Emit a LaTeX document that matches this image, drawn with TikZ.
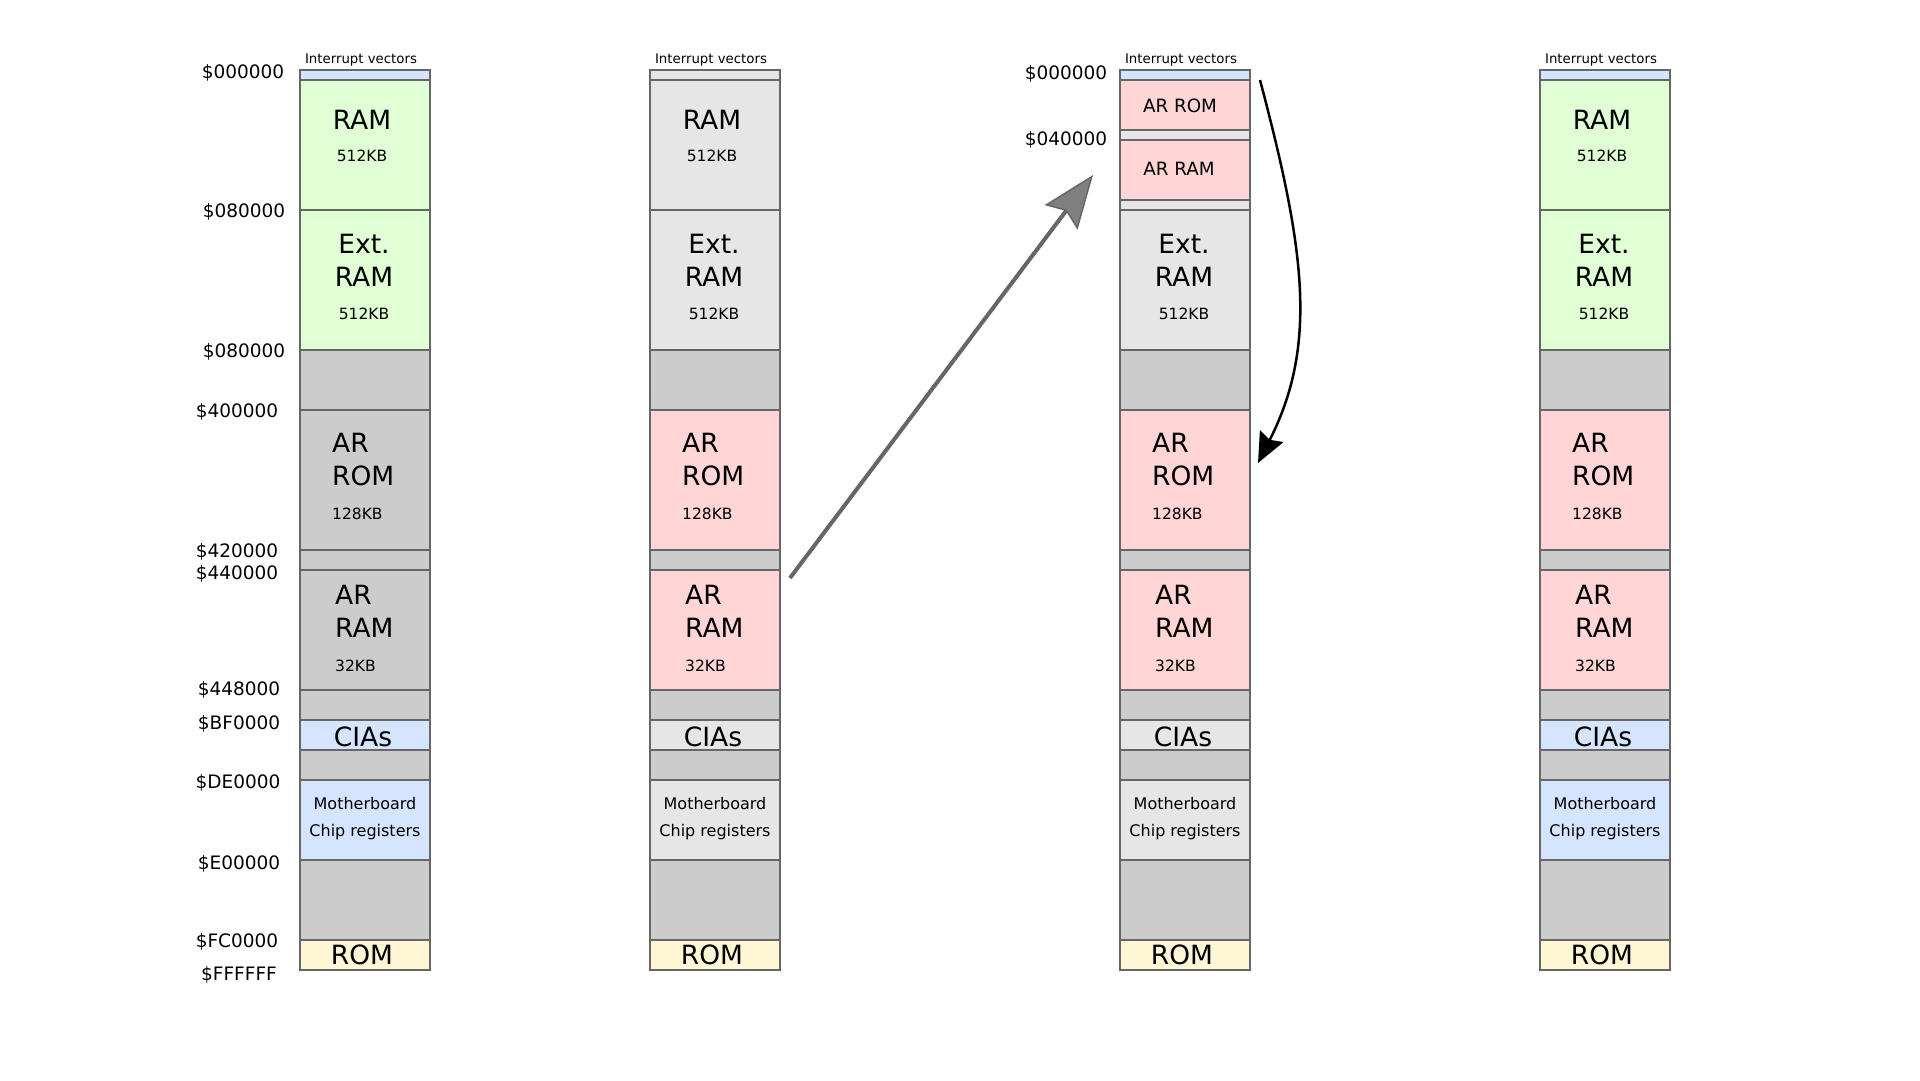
\documentclass[tikz,border=0pt]{standalone}
\usepackage{fontspec}
\setmainfont{DejaVu Sans}
\usepackage{xcolor}
\definecolor{RamGreen}{RGB}{224,255,213}
\definecolor{IoBlue}{RGB}{213,229,255}
\definecolor{ArPink}{RGB}{255,213,213}
\definecolor{RomYellow}{RGB}{255,246,213}
\definecolor{HoleGray}{RGB}{204,204,204}
\definecolor{MutedGray}{RGB}{230,230,230}
\definecolor{EdgeGray}{RGB}{102,102,102}
\definecolor{ArrowGray}{RGB}{128,128,128}
\usepackage{tikz}
\usetikzlibrary{arrows.meta}

% upper part of a map: #1 name, #2 left x, #3 vectors fill, #4 RAM fill
\newcommand{\mapupper}[4]{%
    \node[region, fill=#3, minimum height=10] (#1iv) at (#2,70) {};
    \node[region, fill=#4, minimum height=130] (#1ram) at (#2,80) {};
    \node[ivtxt] (#1ivtxt) at (#2+61,60) {Interrupt vectors};
    \node[bigtxt] (#1ramtxt) at (#2+62,119.5) {RAM};
    \node[sizetxt] (#1ramsize) at (#2+62,156) {512KB};
}

% lower part of a map: #1 name, #2 left x, #3 Ext. RAM fill, #4 AR fill, #5 I/O fill
\newcommand{\maplower}[5]{%
    \foreach \n/\ya/\yb/\col in {ext/210/350/#3, gapa/350/410/HoleGray, arrom/410/550/#4,
            gapb/550/570/HoleGray, arram/570/690/#4, gapc/690/720/HoleGray, cia/720/750/#5,
            gapd/750/780/HoleGray, chip/780/860/#5, gape/860/940/HoleGray, rom/940/970/RomYellow}
        \node[region, fill=\col, minimum height=\yb-\ya] (#1\n) at (#2,\ya) {};
    \node[bigtxt, align=center] (#1exttxt) at (#2+64,260) {Ext.\\RAM};
    \node[sizetxt] (#1extsize) at (#2+64,313.5) {512KB};
    \node[bigtxt, align=left, anchor=west] (#1arromtxt) at (#2+32,460) {AR\\ROM};
    \node[sizetxt, anchor=west] (#1arromsize) at (#2+32,514) {128KB};
    \node[bigtxt, align=left, anchor=west] (#1arramtxt) at (#2+35,611.5) {AR\\RAM};
    \node[sizetxt, anchor=west] (#1arramsize) at (#2+35,665.5) {32KB};
    \node[bigtxt] (#1ciatxt) at (#2+63,737) {CIAs};
    \node[chiptxt, align=center] (#1chiptxt) at (#2+65,819) {Motherboard\\Chip registers};
    \node[bigtxt] (#1romtxt) at (#2+62,955) {ROM};
}

\begin{document}
\begin{tikzpicture}[
    x=1pt, y=-1pt,
    region/.style={
        draw=EdgeGray, line width=2pt,
        minimum width=130, inner sep=0pt, outer sep=0pt,
        anchor=north west
    },
    bigtxt/.style={font=\fontsize{26.5}{33}\selectfont, inner sep=0pt},
    sizetxt/.style={font=\fontsize{15.5}{18}\selectfont, inner sep=0pt},
    addrtxt/.style={font=\fontsize{18.5}{20}\selectfont, inner sep=0pt},
    ivtxt/.style={font=\fontsize{13.3}{15}\selectfont, inner sep=0pt},
    chiptxt/.style={font=\fontsize{16}{27}\selectfont, inner sep=0pt},
    smalltxt/.style={font=\fontsize{18.3}{20}\selectfont, inner sep=0pt},
    moveline/.style={
        draw=EdgeGray, line width=4pt,
        -{Stealth[length=53pt, width=41pt, inset=8pt, fill=ArrowGray, line width=1.5pt]}
    },
    swapline/.style={
        draw=black, line width=2.5pt,
        -{Stealth[length=30pt, width=26pt, inset=4pt]}
    }
]
\useasboundingbox (0,0) rectangle (1920,1080);

% ====== MAP 1 : normal ======
\mapupper{c1}{300}{IoBlue}{RamGreen}
\maplower{c1}{300}{RamGreen}{HoleGray}{IoBlue}

% ====== MAP 2 : AR switched in ======
\mapupper{c2}{650}{MutedGray}{MutedGray}
\maplower{c2}{650}{MutedGray}{ArPink}{MutedGray}

% ====== MAP 3 : AR mapped low ======
\node[region, fill=IoBlue, minimum height=10] (c3iv) at (1120,70) {};
\foreach \n/\ya/\yb/\col in {arromlo/80/130/ArPink, gapy/130/140/MutedGray,
        arramlo/140/200/ArPink, gapz/200/210/MutedGray}
    \node[region, fill=\col, minimum height=\yb-\ya] (c3\n) at (1120,\ya) {};
\node[ivtxt] (c3ivtxt) at (1181,60) {Interrupt vectors};
\node[smalltxt] (c3arromlotxt) at (1180,105.5) {AR ROM};
\node[smalltxt] (c3arramlotxt) at (1179,168.5) {AR RAM};
\maplower{c3}{1120}{MutedGray}{ArPink}{MutedGray}

% ====== MAP 4 : back to normal ======
\mapupper{c4}{1540}{IoBlue}{RamGreen}
\maplower{c4}{1540}{RamGreen}{ArPink}{IoBlue}

% ====== ADDRESSES ======
\foreach \x/\y/\t [count=\i] in {243/72.5/\$000000, 244/211.5/\$080000, 244/351.5/\$080000,
        237/411.5/\$400000, 237/551.5/\$420000, 237/573.5/\$440000, 239/689.5/\$448000,
        239/723.5/\$BF0000, 238/782.5/\$DE0000, 239/863.5/\$E00000, 237/941.5/\$FC0000,
        239/974.5/\$FFFFFF, 1066/73.5/\$000000, 1066/139.5/\$040000}
    \node[addrtxt] (addr\i) at (\x,\y) {\t};

% ====== ARROWS ======
% AR RAM moved down to low memory
\draw[moveline] ([shift={(10,8)}]c2arram.north east) -- ([shift={(-27,5)}]c3arramlo.west);

% back to the AR ROM
\draw[swapline] ([shift={(10,10)}]c3iv.north east) .. controls (1305,250) and (1318,345) ..
    ([shift={(8,-17)}]c3arrom.east);

\end{tikzpicture}
\end{document}
